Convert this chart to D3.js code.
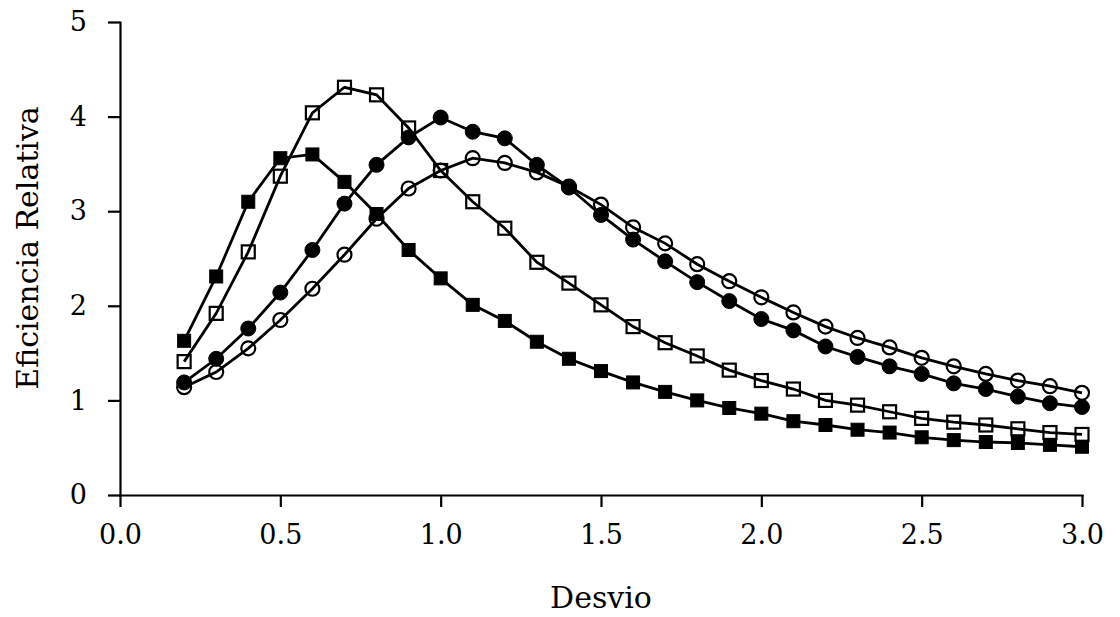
<!DOCTYPE html>
<html>
<head>
<meta charset="utf-8">
<script src="https://cdn.jsdelivr.net/npm/d3@7"></script>
<style>
  html, body { margin: 0; padding: 0; background: #fff; }
  svg { display: block; }
  .axis text { font-family: "DejaVu Serif", serif; font-size: 27px; fill: #000; }
  .axis path, .axis line { stroke: #000; stroke-width: 2.2; }
  .axis-title { font-family: "DejaVu Serif", serif; font-size: 30px; fill: #000; }
</style>
</head>
<body>
<div id="chart"></div>
<script>
  const desvio = [0.2, 0.3, 0.4, 0.5, 0.6, 0.7, 0.8, 0.9, 1.0, 1.1, 1.2, 1.3, 1.4, 1.5, 1.6,
                  1.7, 1.8, 1.9, 2.0, 2.1, 2.2, 2.3, 2.4, 2.5, 2.6, 2.7, 2.8, 2.9, 3.0];

  const filledSquare = [1.63, 2.31, 3.10, 3.56, 3.60, 3.31, 2.97, 2.59, 2.29, 2.01, 1.84, 1.62, 1.44, 1.31, 1.19,
                        1.09, 1.00, 0.92, 0.86, 0.78, 0.74, 0.69, 0.66, 0.61, 0.58, 0.56, 0.55, 0.53, 0.51];
  const openSquare = [1.41, 1.92, 2.57, 3.37, 4.04, 4.31, 4.23, 3.88, 3.43, 3.10, 2.82, 2.46, 2.24, 2.01, 1.78,
                      1.61, 1.47, 1.32, 1.21, 1.12, 1.00, 0.95, 0.88, 0.81, 0.77, 0.74, 0.70, 0.66, 0.64];
  const filledCircle = [1.19, 1.44, 1.76, 2.14, 2.59, 3.08, 3.49, 3.78, 3.99, 3.84, 3.77, 3.49, 3.25, 2.96, 2.70,
                        2.47, 2.25, 2.05, 1.86, 1.74, 1.57, 1.46, 1.36, 1.28, 1.18, 1.12, 1.04, 0.97, 0.93];
  const openCircle = [1.14, 1.30, 1.55, 1.85, 2.18, 2.54, 2.92, 3.24, 3.43, 3.56, 3.51, 3.41, 3.26, 3.07, 2.83,
                      2.66, 2.44, 2.26, 2.09, 1.93, 1.78, 1.66, 1.56, 1.45, 1.36, 1.28, 1.21, 1.15, 1.08];

  const xTicks = [0, 0.5, 1.0, 1.5, 2.0, 2.5, 3.0];
  const yTicks = [0, 1, 2, 3, 4, 5];

  const width = 1120, height = 617;
  const x = d3.scaleLinear().domain([0, 3]).range([120, 1082]);
  const y = d3.scaleLinear().domain([0, 5]).range([495, 22]);

  const svg = d3.select("#chart").append("svg")
    .attr("width", width)
    .attr("height", height);

  svg.append("g")
    .attr("class", "axis")
    .attr("transform", `translate(0,${y(0)})`)
    .call(d3.axisBottom(x).tickValues(xTicks).tickFormat(d3.format(".1f"))
      .tickSize(12).tickSizeOuter(0).tickPadding(18));

  svg.append("g")
    .attr("class", "axis")
    .attr("transform", `translate(${x(0)},0)`)
    .call(d3.axisLeft(y).tickValues(yTicks).tickFormat(d3.format("d"))
      .tickSize(12).tickSizeOuter(0).tickPadding(21));

  svg.selectAll(".axis .domain").attr("stroke-linecap", "square");

  svg.append("text")
    .attr("class", "axis-title")
    .attr("text-anchor", "middle")
    .attr("x", x(1.5))
    .attr("y", 608)
    .text("Desvio");

  svg.append("text")
    .attr("class", "axis-title")
    .attr("text-anchor", "middle")
    .attr("transform", "translate(38,248) rotate(-90)")
    .text("Eficiencia Relativa");

  const series = [
    { values: filledSquare, shape: "square", filled: true },
    { values: openSquare, shape: "square", filled: false },
    { values: filledCircle, shape: "circle", filled: true },
    { values: openCircle, shape: "circle", filled: false }
  ];

  const line = d3.line()
    .x((d, i) => x(desvio[i]))
    .y(d => y(d));

  series.forEach(s => {
    svg.append("path")
      .datum(s.values)
      .attr("fill", "none")
      .attr("stroke", "#000")
      .attr("stroke-width", 2.8)
      .attr("d", line);
  });

  series.forEach(s => {
    const g = svg.append("g");
    const pts = s.values.map((v, i) => [x(desvio[i]), y(v)]);
    if (s.shape === "square") {
      g.selectAll("rect").data(pts).join("rect")
        .attr("x", d => d[0] - 6.5)
        .attr("y", d => d[1] - 6.5)
        .attr("width", 13)
        .attr("height", 13)
        .attr("fill", s.filled ? "#000" : "none")
        .attr("stroke", "#000")
        .attr("stroke-width", s.filled ? 1 : 2.2);
    } else {
      g.selectAll("circle").data(pts).join("circle")
        .attr("cx", d => d[0])
        .attr("cy", d => d[1])
        .attr("r", s.filled ? 7.5 : 7)
        .attr("fill", s.filled ? "#000" : "none")
        .attr("stroke", "#000")
        .attr("stroke-width", s.filled ? 1 : 2.2);
    }
  });
</script>
</body>
</html>
